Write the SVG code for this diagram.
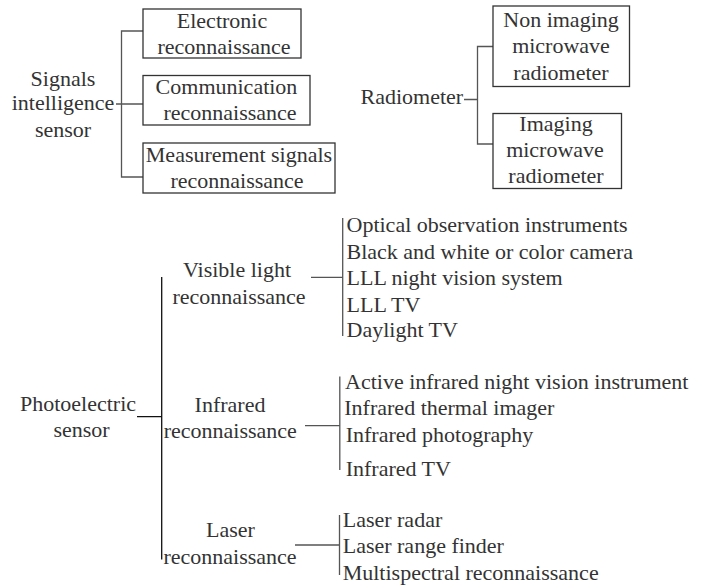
<svg xmlns="http://www.w3.org/2000/svg" width="701" height="587" viewBox="0 0 701 587">
  <style>
    text { font-family: Liberation Serif, serif; font-size: 22px; fill: #333; }
    .c { text-anchor: middle; }
    .box { fill: #fff; stroke: #333; stroke-width: 1.3; }
    .ln { fill: none; stroke: #555; stroke-width: 1.3; }
    .dk { fill: none; stroke: #111; stroke-width: 1.3; }
  </style>
  <rect width="701" height="587" fill="#fff"/>

  <!-- connectors -->
  <g id="connectors">
    <!-- signals intelligence bracket -->
    <path class="ln" d="M143 31 H121.5 V177 H143 M116 104 H143"/>
    <!-- radiometer bracket -->
    <path class="ln" d="M493 46.5 H477.5 V144 H493 M464 99.5 H477.5"/>
    <!-- photoelectric main bracket -->
    <path class="dk" d="M161.7 277 V559.5 M137 416.7 H161.7"/>
    <!-- visible light list -->
    <path class="ln" d="M311 277.3 H342.7 M342.7 218 V336"/>
    <!-- infrared list -->
    <path class="ln" d="M305 425.7 H339.5 M339.8 376.5 V470"/>
    <!-- laser list -->
    <path class="ln" d="M295 545 H339.5 M339.5 515 V575"/>
  </g>

  <!-- signals intelligence -->
  <g id="sigint">
    <text font-family="Liberation Serif, serif" class="c" x="63" y="86">Signals</text>
    <text font-family="Liberation Serif, serif" class="c" x="63" y="110">intelligence</text>
    <text font-family="Liberation Serif, serif" class="c" x="63" y="137">sensor</text>
  </g>
  <g id="electronic">
    <rect class="box" x="143" y="9" width="158" height="49"/>
    <text font-family="Liberation Serif, serif" class="c" x="222" y="27.5">Electronic</text>
    <text font-family="Liberation Serif, serif" class="c" x="224" y="53.5">reconnaissance</text>
  </g>
  <g id="communication">
    <rect class="box" x="143" y="75.5" width="167" height="49.5"/>
    <text font-family="Liberation Serif, serif" class="c" x="226.5" y="93.5">Communication</text>
    <text font-family="Liberation Serif, serif" class="c" x="230" y="119.5">reconnaissance</text>
  </g>
  <g id="measurement">
    <rect class="box" x="143" y="143" width="192" height="50"/>
    <text font-family="Liberation Serif, serif" class="c" x="239" y="161.5">Measurement signals</text>
    <text font-family="Liberation Serif, serif" class="c" x="237" y="187.5">reconnaissance</text>
  </g>

  <!-- radiometer -->
  <g id="radiometer">
    <text font-family="Liberation Serif, serif" x="360.5" y="104">Radiometer</text>
  </g>
  <g id="non-imaging">
    <rect class="box" x="493" y="6" width="136.5" height="80.5"/>
    <text font-family="Liberation Serif, serif" class="c" x="561" y="26.5">Non imaging</text>
    <text font-family="Liberation Serif, serif" class="c" x="561" y="53">microwave</text>
    <text font-family="Liberation Serif, serif" class="c" x="561" y="80">radiometer</text>
  </g>
  <g id="imaging">
    <rect class="box" x="493" y="113.5" width="128.5" height="75"/>
    <text font-family="Liberation Serif, serif" class="c" x="556" y="131">Imaging</text>
    <text font-family="Liberation Serif, serif" class="c" x="555" y="157">microwave</text>
    <text font-family="Liberation Serif, serif" class="c" x="556" y="183">radiometer</text>
  </g>

  <!-- photoelectric -->
  <g id="photoelectric">
    <text font-family="Liberation Serif, serif" class="c" x="78" y="410.7">Photoelectric</text>
    <text font-family="Liberation Serif, serif" class="c" x="81.5" y="437.3">sensor</text>
  </g>
  <g id="visible">
    <text font-family="Liberation Serif, serif" class="c" x="237" y="277.3">Visible light</text>
    <text font-family="Liberation Serif, serif" class="c" x="239" y="304">reconnaissance</text>
  </g>
  <g id="visible-list">
    <text font-family="Liberation Serif, serif" x="346.5" y="232.3">Optical observation instruments</text>
    <text font-family="Liberation Serif, serif" x="346.5" y="259">Black and white or color camera</text>
    <text font-family="Liberation Serif, serif" x="346.5" y="285">LLL night vision system</text>
    <text font-family="Liberation Serif, serif" x="346.5" y="311.5">LLL TV</text>
    <text font-family="Liberation Serif, serif" x="346.5" y="337.3">Daylight TV</text>
  </g>
  <g id="infrared">
    <text font-family="Liberation Serif, serif" class="c" x="230" y="411.7">Infrared</text>
    <text font-family="Liberation Serif, serif" class="c" x="230.3" y="438.3">reconnaissance</text>
  </g>
  <g id="infrared-list">
    <text font-family="Liberation Serif, serif" x="345" y="389.3">Active infrared night vision instrument</text>
    <text font-family="Liberation Serif, serif" x="344.3" y="415">Infrared thermal imager</text>
    <text font-family="Liberation Serif, serif" x="345.7" y="441.7">Infrared photography</text>
    <text font-family="Liberation Serif, serif" x="345.7" y="476">Infrared TV</text>
  </g>
  <g id="laser">
    <text font-family="Liberation Serif, serif" class="c" x="230.5" y="537.3">Laser</text>
    <text font-family="Liberation Serif, serif" class="c" x="230" y="564">reconnaissance</text>
  </g>
  <g id="laser-list">
    <text font-family="Liberation Serif, serif" x="342.7" y="526.7">Laser radar</text>
    <text font-family="Liberation Serif, serif" x="342.7" y="553.3">Laser range finder</text>
    <text font-family="Liberation Serif, serif" x="342.7" y="580">Multispectral reconnaissance</text>
  </g>
</svg>
